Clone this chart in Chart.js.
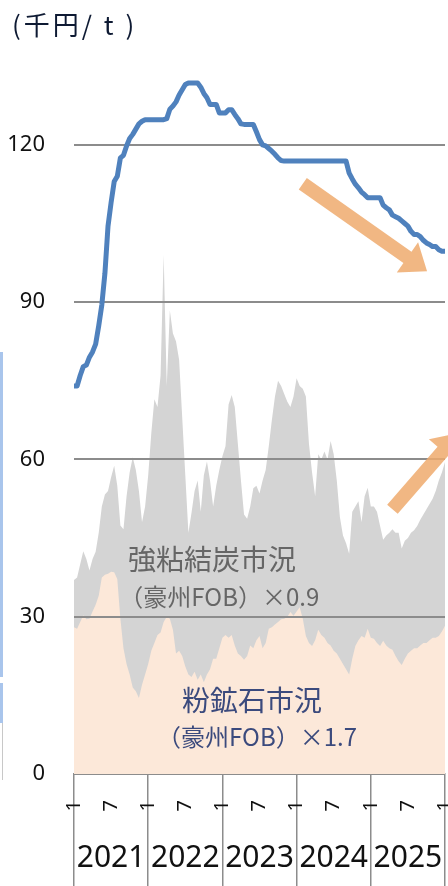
<!DOCTYPE html>
<html lang="ja">
<head>
<meta charset="utf-8">
<title>鋼材価格と原料炭・鉄鉱石市況</title>
<script src="https://cdn.jsdelivr.net/npm/chart.js@4.4.1/dist/chart.umd.min.js"></script>
<style>
  html, body { margin: 0; padding: 0; background: #fff; }
  #wrap { position: relative; width: 448px; height: 886px; overflow: hidden; }
  #chart { display: block; }
  .edge { position: absolute; left: 0; width: 3px; background: #a9c5ec; }
</style>
</head>
<body>
<div id="wrap">
  <canvas id="chart" width="448" height="886"></canvas>
  <div class="edge" style="top:352px;height:325px"></div>
  <div class="edge" style="top:683px;height:40px"></div>
  <div class="edge" style="top:723px;height:57px;width:1px;left:2px;background:#c8c8c8"></div>
</div>
<script>
// 横軸: 2021年1月 = 0 とした月数 (半月刻み)
const months = [
  0, 0.5, 1, 1.5, 2, 2.5, 3, 3.5, 4, 4.5, 5, 5.5,
  6, 6.5, 7, 7.5, 8, 8.5, 9, 9.5, 10, 10.5, 11, 11.5,
  12, 12.5, 13, 13.5, 14, 14.5, 15, 15.5, 16, 16.5, 17, 17.5,
  18, 18.5, 19, 19.5, 20, 20.5, 21, 21.5, 22, 22.5, 23, 23.5,
  24, 24.5, 25, 25.5, 26, 26.5, 27, 27.5, 28, 28.5, 29, 29.5,
  30, 30.5, 31, 31.5, 32, 32.5, 33, 33.5, 34, 34.5, 35, 35.5,
  36, 36.5, 37, 37.5, 38, 38.5, 39, 39.5, 40, 40.5, 41, 41.5,
  42, 42.5, 43, 43.5, 44, 44.5, 45, 45.5, 46, 46.5, 47, 47.5,
  48, 48.5, 49, 49.5, 50, 50.5, 51, 51.5, 52, 52.5, 53, 53.5,
  54, 54.5, 55, 55.5, 56, 56.5, 57, 57.5, 58, 58.5, 59, 59.5,
  60
];

// 鋼材価格 (千円/t)
const steelPrice = [
  74, 74, 76, 77.7, 78, 79.5, 80.5, 82, 85.5, 89.5, 95.5, 104.5,
  109, 113, 114, 117.5, 118, 119.8, 121.2, 122, 123, 124, 124.5, 124.8,
  124.8, 124.8, 124.8, 124.8, 124.8, 124.8, 125, 126.8, 127.4, 128.2, 129.5, 130.5,
  131.5, 131.8, 131.8, 131.8, 131.8, 131, 129.8, 129, 127.7, 127.7, 127.7, 126.1,
  126.1, 126.1, 126.7, 126.7, 125.8, 125, 124, 123.9, 123.9, 123.9, 123.9, 122.5,
  121, 120, 119.8, 119.3, 118.8, 118.2, 117.5, 117, 116.9, 116.9, 116.9, 116.9,
  116.9, 116.9, 116.9, 116.9, 116.9, 116.9, 116.9, 116.9, 116.9, 116.9, 116.9, 116.9,
  116.9, 116.9, 116.9, 116.9, 116.9, 114.6, 113.5, 112.5, 111.8, 111, 110.5, 109.9,
  109.9, 109.9, 109.9, 109.9, 108.5, 108, 107.6, 106.6, 106.3, 106, 105.5, 105,
  104.5, 103.5, 102.9, 102.9, 102.5, 101.8, 101.3, 101, 100.6, 100.6, 100, 99.7,
  99.7
];

// 強粘結炭市況 (豪州FOB) ×0.9
const cokingCoal = [
  37, 37.5, 40, 42.5, 41, 38.8, 41, 42.4, 46, 51, 53.3, 54,
  56.6, 58.8, 55, 47.4, 46.7, 53, 57.5, 60.4, 58, 54, 48, 51,
  57, 65, 71.5, 70, 76, 99, 74, 88.4, 84, 82.5, 79, 68,
  57, 46, 49.8, 54, 56, 50, 57, 59.6, 56, 51, 55, 58,
  60.6, 62.5, 70.5, 72.3, 70, 63, 56, 49.5, 48.7, 51, 54.5, 55,
  53.5, 56, 58, 62.5, 67.5, 72, 75, 74, 72.5, 71, 70, 72,
  75.5, 74, 73.5, 72, 63, 57.5, 53, 61, 60, 61.5, 60, 63.5,
  61, 56, 49, 45.5, 44, 42, 50, 51, 52, 48, 53, 54.6,
  51, 51, 50, 47.3, 44.7, 45.5, 46, 46.7, 46, 46, 43, 44.5,
  45, 46, 46.5, 47.3, 48.5, 49.5, 50.5, 51.5, 52.5, 54, 56, 57.5,
  59.5
];

// 粉鉱石市況 (豪州FOB) ×1.7
const ironOre = [
  28, 27.7, 29, 30.3, 29.5, 29.6, 31, 32.3, 34, 37.5, 38, 38.2,
  38.6, 38.5, 37.2, 29.6, 24, 21, 19, 16.5, 15.8, 14.5, 17, 19,
  21, 23.5, 25, 26.5, 27, 29, 30, 29.6, 27.5, 23, 23.5, 22.5,
  20.5, 19, 18.5, 19.5, 18, 19, 17.5, 19, 20, 22, 22, 24,
  26, 26.5, 26, 26.5, 24.5, 23, 22.5, 21.8, 22.5, 24.5, 24, 25.5,
  26.3, 24, 25, 27.7, 28, 28.5, 29, 29.5, 29.6, 30, 30.9, 30.2,
  31, 31.8, 29.6, 26.3, 25, 24.4, 25.5, 27.5, 26.5, 26, 25, 24.5,
  23.5, 23, 22, 21, 20, 19, 22, 24.4, 25.5, 26.3, 26, 27.7,
  26, 25.8, 25, 24.4, 25.4, 24.5, 24, 23.7, 22.5, 21.5, 20.8, 22,
  23, 23.5, 24, 24, 24.5, 25, 25, 25.5, 26, 26, 26.3, 27.2,
  28.3
];

const yTicks = [0, 30, 60, 90, 120];
const tickMonths = [0, 6, 12, 18, 24, 30, 36, 42, 48, 54, 60];
const tickLabels = ['1', '7', '1', '7', '1', '7', '1', '7', '1', '7', '1'];
const years = ['2021', '2022', '2023', '2024', '2025'];

// 注記 (月, 値)
const arrows = [
  { from: [37.0, 112.6], to: [57.1, 95.9] },
  { from: [51.5, 50.5], to: [62.2, 65.0] }
];
const notes = [
  { text: '強粘結炭市況', at: [22.3, 41.0], size: 28, color: '#666666' },
  { text: '（豪州FOB）×0.9', at: [23.5, 33.8], size: 24, color: '#666666' },
  { text: '粉鉱石市況', at: [28.8, 14.1], size: 28, color: '#3b4a7d' },
  { text: '（豪州FOB）×1.7', at: [29.6, 7.1], size: 24, color: '#3b4a7d' }
];

const toPts = vals => vals.map((v, i) => ({ x: months[i], y: v }));

function drawArrow(ctx, x1, y1, x2, y2) {
  const ang = Math.atan2(y2 - y1, x2 - x1);
  const len = Math.hypot(x2 - x1, y2 - y1);
  const shaft = 14, head = 37, headLen = 24;
  ctx.save();
  ctx.translate(x1, y1);
  ctx.rotate(ang);
  ctx.beginPath();
  ctx.moveTo(0, -shaft / 2);
  ctx.lineTo(len - headLen, -shaft / 2);
  ctx.lineTo(len - headLen, -head / 2);
  ctx.lineTo(len, 0);
  ctx.lineTo(len - headLen, head / 2);
  ctx.lineTo(len - headLen, shaft / 2);
  ctx.lineTo(0, shaft / 2);
  ctx.closePath();
  ctx.fillStyle = 'rgba(238,170,109,0.85)';
  ctx.fill();
  ctx.restore();
}

const overlay = {
  id: 'overlay',
  beforeDatasetDraw(chart, args) {
    // 面グラフの上、鋼材価格の線の下に目盛線を引く
    if (args.index !== 0) return;
    const { ctx, chartArea: a, scales: { y } } = chart;
    ctx.save();
    ctx.strokeStyle = '#8c8c8c';
    ctx.lineWidth = 2;
    yTicks.forEach(v => {
      if (v === 0) return;
      const py = Math.round(y.getPixelForValue(v));
      ctx.beginPath();
      ctx.moveTo(a.left, py);
      ctx.lineTo(a.right, py);
      ctx.stroke();
    });
    ctx.restore();
  },
  afterDatasetsDraw(chart) {
    const { ctx, scales: { x, y } } = chart;
    arrows.forEach(ar => drawArrow(ctx,
      x.getPixelForValue(ar.from[0]), y.getPixelForValue(ar.from[1]),
      x.getPixelForValue(ar.to[0]), y.getPixelForValue(ar.to[1])));
    ctx.save();
    ctx.textAlign = 'center';
    ctx.textBaseline = 'middle';
    notes.forEach(n => {
      ctx.font = n.size + 'px "Noto Sans CJK JP"';
      ctx.fillStyle = n.color;
      ctx.fillText(n.text, x.getPixelForValue(n.at[0]), y.getPixelForValue(n.at[1]));
    });
    ctx.restore();
  },
  afterDraw(chart) {
    const { ctx, chartArea: a, scales: { x } } = chart;
    ctx.save();
    ctx.fillStyle = '#111111';
    ctx.textAlign = 'center';
    ctx.textBaseline = 'middle';
    ctx.font = '30px "Noto Sans"';
    years.forEach((yr, i) => {
      const cx = (x.getPixelForValue(i * 12) + x.getPixelForValue(i * 12 + 12)) / 2;
      ctx.fillText(yr, cx, a.bottom + 84);
    });
    ctx.fillStyle = '#0e1a33';
    ctx.textAlign = 'left';
    ctx.font = '26px "Noto Sans CJK JP"';
    ctx.letterSpacing = '3px';
    ctx.fillText('(千円/ t )', 12, 25);
    ctx.restore();
  }
};

new Chart(document.getElementById('chart'), {
  type: 'line',
  data: {
    datasets: [
      {
        label: '鋼材価格',
        data: toPts(steelPrice),
        borderColor: '#4f81bd',
        borderWidth: 5,
        borderCapStyle: 'round',
        borderJoinStyle: 'round',
        pointRadius: 0,
        fill: false,
        order: 0
      },
      {
        label: '粉鉱石市況',
        data: toPts(ironOre),
        borderColor: 'rgba(0,0,0,0)',
        borderWidth: 0,
        backgroundColor: '#fce8d9',
        pointRadius: 0,
        fill: 'origin',
        order: 1
      },
      {
        label: '強粘結炭市況',
        data: toPts(cokingCoal),
        borderColor: 'rgba(0,0,0,0)',
        borderWidth: 0,
        backgroundColor: '#d4d4d4',
        pointRadius: 0,
        fill: 'origin',
        order: 2
      }
    ]
  },
  options: {
    responsive: false,
    animation: false,
    devicePixelRatio: 1,
    layout: { padding: { top: 40, right: 3, bottom: 0, left: 0 } },
    plugins: { legend: { display: false }, tooltip: { enabled: false } },
    scales: {
      x: {
        type: 'linear',
        min: 0,
        max: 60,
        afterBuildTicks: s => { s.ticks = tickMonths.map(v => ({ value: v })); },
        ticks: {
          callback: (v, i) => tickLabels[i],
          autoSkip: false,
          minRotation: 90,
          maxRotation: 90,
          padding: -86,
          color: '#111111',
          font: { family: 'Noto Sans', size: 20 }
        },
        grid: {
          drawOnChartArea: false,
          drawTicks: true,
          tickLength: 112,
          lineWidth: 1.5,
          color: c => (c.tick && c.tick.value % 12 === 0) ? '#8c8c8c' : 'rgba(0,0,0,0)'
        },
        border: { display: true, color: '#8c8c8c', width: 2 },
        afterFit: s => { s.height = 112; s.paddingLeft = 0; s.paddingRight = 0; }
      },
      y: {
        min: 0,
        max: 140,
        afterBuildTicks: s => { s.ticks = yTicks.map(v => ({ value: v })); },
        ticks: { color: '#111111', padding: 29, font: { family: 'Noto Sans', size: 22 } },
        grid: { display: false, drawTicks: false },
        border: { display: false },
        afterFit: s => { s.width = 74; s.paddingTop = 0; s.paddingBottom = 0; }
      }
    }
  },
  plugins: [overlay]
});
</script>
</body>
</html>
